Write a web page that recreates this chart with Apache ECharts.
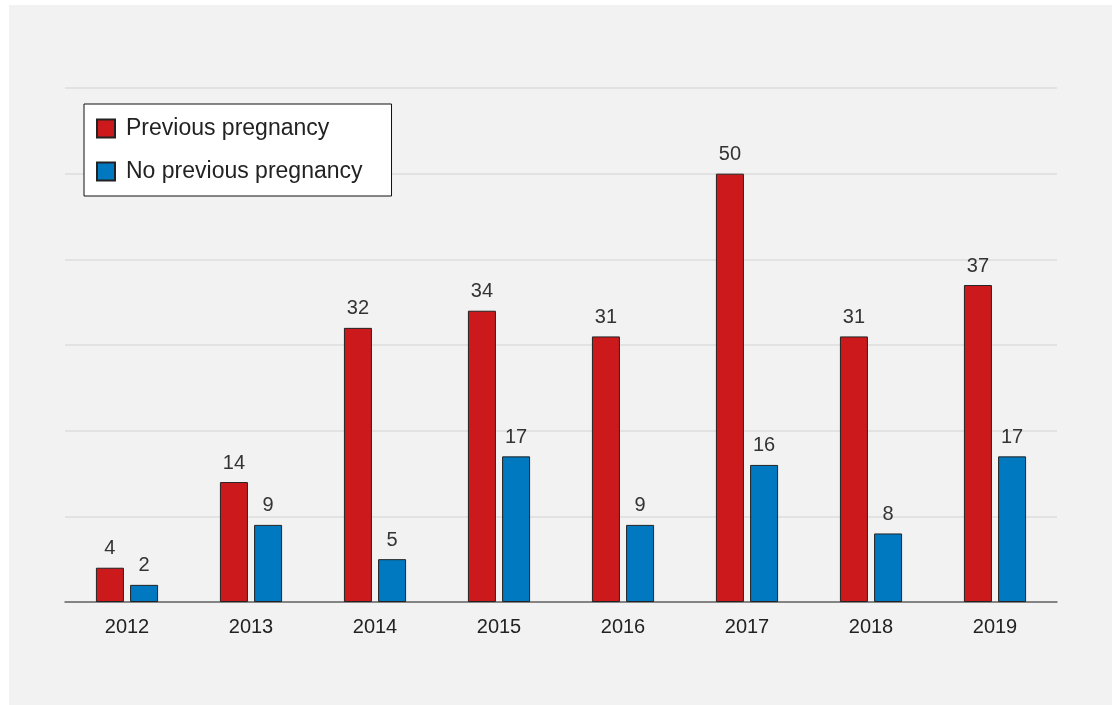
<!DOCTYPE html>
<html><head><meta charset="utf-8">
<script src="https://cdn.jsdelivr.net/npm/echarts@6/dist/echarts.min.js"></script>
<style>
html,body{margin:0;padding:0;background:#fff;width:1112px;height:705px;overflow:hidden;}
#c{position:absolute;left:9px;top:5px;width:1103px;height:700px;background:#f2f2f2;}
</style></head>
<body><div id="c"></div>
<script>
const categories = ['2012','2013','2014','2015','2016','2017','2018','2019'];
const previousPregnancy = [4,14,32,34,31,50,31,37];
const noPreviousPregnancy = [2,9,5,17,9,16,8,17];
const seriesNames = ['Previous pregnancy','No previous pregnancy'];

const chart = echarts.init(document.getElementById('c'), null, {renderer:'canvas'});
const font = "'Liberation Sans', Arial, sans-serif";
const labelCfg = {show:true, position:'top', distance:9, color:'#333', fontSize:20, fontFamily:font};
chart.setOption({
  backgroundColor:'#f2f2f2',
  animation:false,
  textStyle:{fontFamily:font},
  grid:{left:56, right:55, top:83, bottom:103, containLabel:false},
  legend:{
    left:75, top:99, orient:'vertical',
    backgroundColor:'#fff', borderColor:'#111', borderWidth:1,
    padding:[13,29,13,12], itemGap:20, itemWidth:18, itemHeight:18,
    textStyle:{fontSize:23, color:'#222', fontFamily:font, padding:[0,0,0,6]},
    icon:'rect',
    data:seriesNames
  },
  xAxis:{
    type:'category', data:categories,
    axisLine:{lineStyle:{color:'#666', width:1.5}},
    axisTick:{show:false},
    axisLabel:{color:'#222', fontSize:20, margin:15, fontFamily:font}
  },
  yAxis:{
    type:'value', min:0, max:60, interval:10,
    axisLabel:{show:false}, axisLine:{show:false}, axisTick:{show:false},
    splitLine:{lineStyle:{color:'#dcdcdc', width:1.5}}
  },
  series:[
    {name:seriesNames[0], type:'bar', data:previousPregnancy, barWidth:28, barGap:'22%',
     itemStyle:{color:'#cc1a1c', borderColor:'#222', borderWidth:1}, label:labelCfg},
    {name:seriesNames[1], type:'bar', data:noPreviousPregnancy, barWidth:28,
     itemStyle:{color:'#0079c1', borderColor:'#222', borderWidth:1}, label:labelCfg}
  ]
});
</script></body></html>
